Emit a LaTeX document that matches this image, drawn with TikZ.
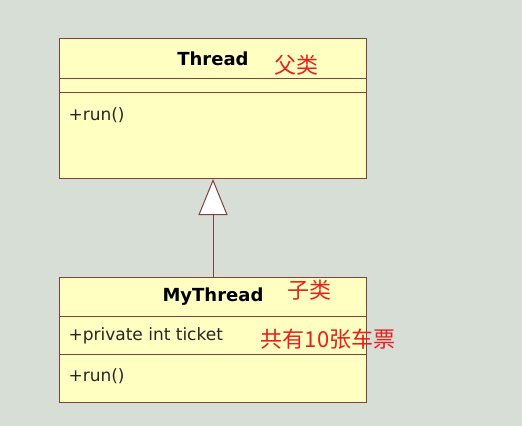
\documentclass[tikz,border=0pt]{standalone}
\usepackage{fontspec}
\newfontfamily\umlfont{DejaVu Sans}
\newfontfamily\cjk{Noto Sans CJK SC}
\usetikzlibrary{arrows.meta}

\definecolor{bgcol}{RGB}{214,222,214}
\definecolor{boxfill}{RGB}{255,255,194}
\definecolor{boxline}{RGB}{130,64,64}
\definecolor{notered}{RGB}{235,30,30}

\begin{document}
\begin{tikzpicture}[
    x=1pt, y=-1pt,
    part/.style = {draw=boxline, fill=boxfill, line width=1pt, anchor=north west,
                   minimum width=307pt, inner sep=0pt},
    classname/.style = {part, font=\umlfont\bfseries\fontsize{18}{20}\selectfont},
    member/.style = {anchor=west, xshift=6pt, font=\umlfont\fontsize{17}{19}\selectfont, text=black!85},
    note/.style = {text=notered, inner sep=0pt, font=\cjk\fontsize{22}{24}\selectfont}
]

\fill[bgcol] (0,0) rectangle (522,426);

% parent class
\node[classname, minimum height=40pt] (threadname) at (59,38) {Thread};
\node[part, minimum height=14pt] (threadattr) at (59,78) {};
\node[part, minimum height=86pt, label={[member, yshift=-23pt]north west:+run()}] (threadops) at (59,92) {};

% child class
\node[classname, minimum height=39pt] (mythreadname) at (59,277) {MyThread};
\node[part, minimum height=38pt, label={[member]west:+private int ticket}] (mythreadattr) at (59,316) {};
\node[part, minimum height=48pt, label={[member, yshift=-22pt]north west:+run()}] (mythreadops) at (59,354) {};

\draw[boxline, line width=1pt, -{Triangle[open, fill=white, width=29pt, length=36pt]}] (mythreadname.north) -- (threadops.south);

% notes
\node[note] (parentnote) at (296,65) {父类};
\node[note] (childnote) at (309,290) {子类};
\node[note] (ticketnote) at (328,339) {共有10张车票};

\end{tikzpicture}
\end{document}
